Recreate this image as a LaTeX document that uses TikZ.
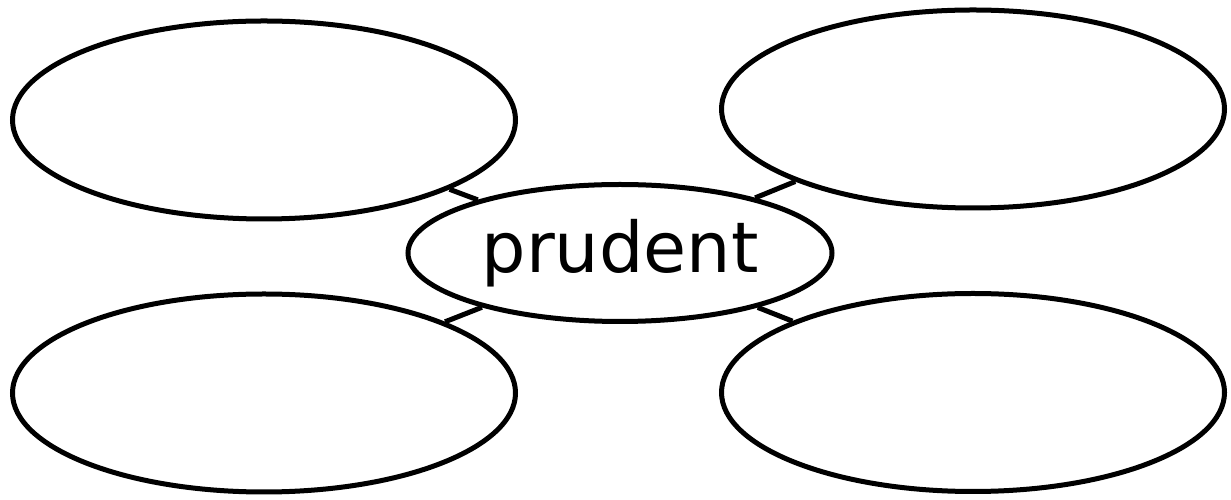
\documentclass[tikz,border=0pt]{standalone}
\usepackage{fontspec}
\setmainfont{DejaVu Sans}
\usetikzlibrary{shapes.geometric}
\begin{document}
\begin{tikzpicture}[x=1pt,y=1pt,
  bubble/.style={ellipse,draw,line width=5pt,fill=white,inner sep=0pt},
  outer/.style={bubble,minimum width=503pt,minimum height=198pt},
  link/.style={line width=5pt}]
\useasboundingbox (0,0) rectangle (1231,500);
\node[outer] (tl) at (264,380) {};
\node[outer] (tr) at (973,391) {};
\node[outer] (bl) at (264,107) {};
\node[outer] (br) at (973,107.5) {};
\node[bubble,minimum width=424pt,minimum height=137pt,font=\fontsize{70}{84}\selectfont] (c) at (620,247) {prudent};
\draw[link] (c) -- (tl);
\draw[link] (c) -- (tr);
\draw[link] (c) -- (bl);
\draw[link] (c) -- (br);
\end{tikzpicture}
\end{document}
